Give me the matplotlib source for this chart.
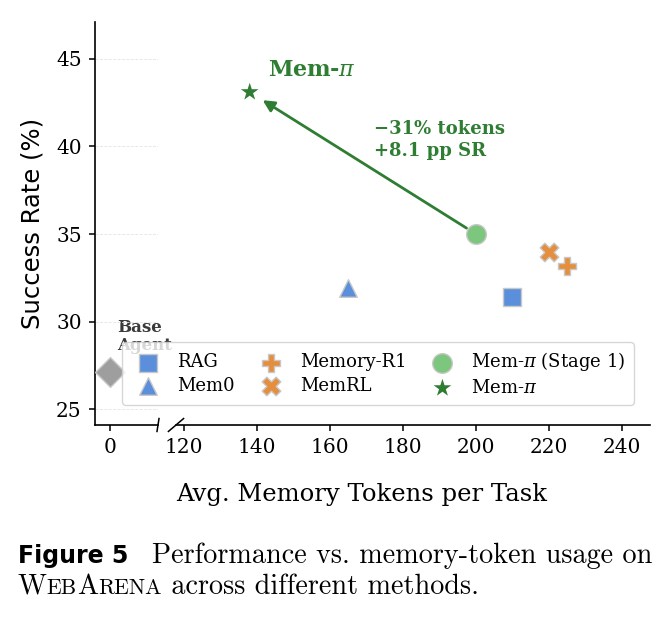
import numpy as np
import matplotlib.pyplot as plt

plt.rcParams['font.family'] = 'serif'
plt.rcParams['font.serif'] = ['DejaVu Serif']
plt.rcParams['mathtext.fontset'] = 'dejavuserif'

# ---- data ----
methods = ['RAG', 'Mem0', 'Memory-R1', 'MemRL', r'Mem-$\pi$ (Stage 1)', r'Mem-$\pi$']
tokens = [210, 165, 225, 220, 200, 138]
success = [31.4, 31.9, 33.2, 34.0, 35.0, 43.1]
markers = ['s', '^', 'P', 'X', 'o', '*']
colors = ['#5b8fdc', '#5b8fdc', '#e58f3e', '#e58f3e', '#7cc67e', '#2e7d32']
sizes = [160, 160, 180, 180, 200, 180]
edges = ['#c8c8c8', '#c8c8c8', '#c8c8c8', '#c8c8c8', '#c8c8c8', 'none']

base_tokens = 0
base_success = 27.1

green = '#2e7d32'

W, H = 670, 617
fig = plt.figure(figsize=(W / 100, H / 100), dpi=100)

bottom = 1 - 425 / H
height = 403 / H
ax0 = fig.add_axes([95 / W, bottom, 63 / W, height])
ax1 = fig.add_axes([176 / W, bottom, 474 / W, height], sharey=ax0)

# left (broken) part: base agent only
ax0.scatter([base_tokens], [base_success], marker='D', s=230, color='#9e9e9e',
            edgecolor='#c8c8c8', linewidth=1, zorder=3)
ax0.text(1.9, 30.15, 'Base\nAgent', fontsize=12, fontweight='bold', color='#3a3a3a',
         ha='left', va='top', clip_on=False, zorder=1, linespacing=1.1)
ax0.set_xlim(-4, 13)
ax0.set_xticks([0])
ax0.set_ylim(24.1, 47.1)
ax0.set_yticks([25, 30, 35, 40, 45])
ax0.yaxis.grid(True, ls='--', color='#e4e4e4', lw=0.6)
ax0.spines['top'].set_visible(False)
ax0.spines['right'].set_visible(False)

# right part: memory methods
handles = []
for m, x, y, mk, c, s, e in zip(methods, tokens, success, markers, colors, sizes, edges):
    h = ax1.scatter([x], [y], marker=mk, s=s, color=c, edgecolor=e, linewidth=1,
                    label=m, zorder=3)
    handles.append(h)

ax1.annotate('', xy=(tokens[5], success[5]), xytext=(tokens[4], success[4]),
             arrowprops=dict(arrowstyle='-|>', color=green, lw=2, mutation_scale=17,
                             shrinkA=8, shrinkB=11), zorder=2)
ax1.text(143, 44.35, r'Mem-$\pi$', color=green, fontsize=16, fontweight='bold',
         ha='left', va='center')
ax1.text(172, 41.5, '\u221231% tokens\n+8.1 pp SR', color=green, fontsize=13,
         fontweight='bold', ha='left', va='top', linespacing=1.3)

ax1.set_xlim(117.8, 247.7)
ax1.set_xticks([120, 140, 160, 180, 200, 220, 240])
ax1.spines['top'].set_visible(False)
ax1.spines['right'].set_visible(False)
ax1.spines['left'].set_visible(False)
ax1.tick_params(axis='y', left=False, labelleft=False)

for ax in (ax0, ax1):
    ax.tick_params(labelsize=14.5, length=4.5, width=1.1, pad=5)
    for sp in ax.spines.values():
        sp.set_linewidth(1.2)

# break marks
d = 0.016
kw = dict(color='k', clip_on=False, lw=1.1)
ax0.plot((1 - d, 1 + d), (-d, d), transform=ax0.transAxes, **kw)
ax1.plot((-d, d), (-d, d), transform=ax1.transAxes, **kw)

ax0.set_ylabel('Success Rate (%)', fontsize=17.5, family='DejaVu Sans')
ax0.yaxis.set_label_coords(-0.80, 0.5)
fig.text(362 / W, 1 - 494 / H, 'Avg. Memory Tokens per Task', fontsize=17.5,
         ha='center', va='center')

leg = fig.legend(handles=handles, ncol=3, loc='lower left',
                 bbox_to_anchor=(122 / W, 1 - 405 / H), borderaxespad=0,
                 fontsize=13, frameon=True, framealpha=0.8, edgecolor='#cccccc',
                 columnspacing=1.0, handletextpad=0.6, labelspacing=0.3,
                 borderpad=0.45)

# caption
fig.text(18 / W, 1 - 556 / H, 'Figure 5', family='DejaVu Sans', fontweight='bold',
         fontsize=17, ha='left', va='center')
fig.text(652 / W, 1 - 556 / H, 'Performance vs. memory-token usage on', family='cmr10',
         fontsize=20.3, ha='right', va='center')

# second line with small caps "WebArena"
renderer = fig.canvas.get_renderer()
x = 18
pieces = [('W', 20.3), ('EB', 15.7), ('A', 20.3), ('RENA', 15.7),
          (' across different methods.', 20.3)]
for txt, fs in pieces:
    t = fig.text(x / W, 1 - 594 / H, txt, family='cmr10', fontsize=fs,
                 ha='left', va='baseline')
    x += t.get_window_extent(renderer).width

fig.savefig('out.png', dpi=100)
